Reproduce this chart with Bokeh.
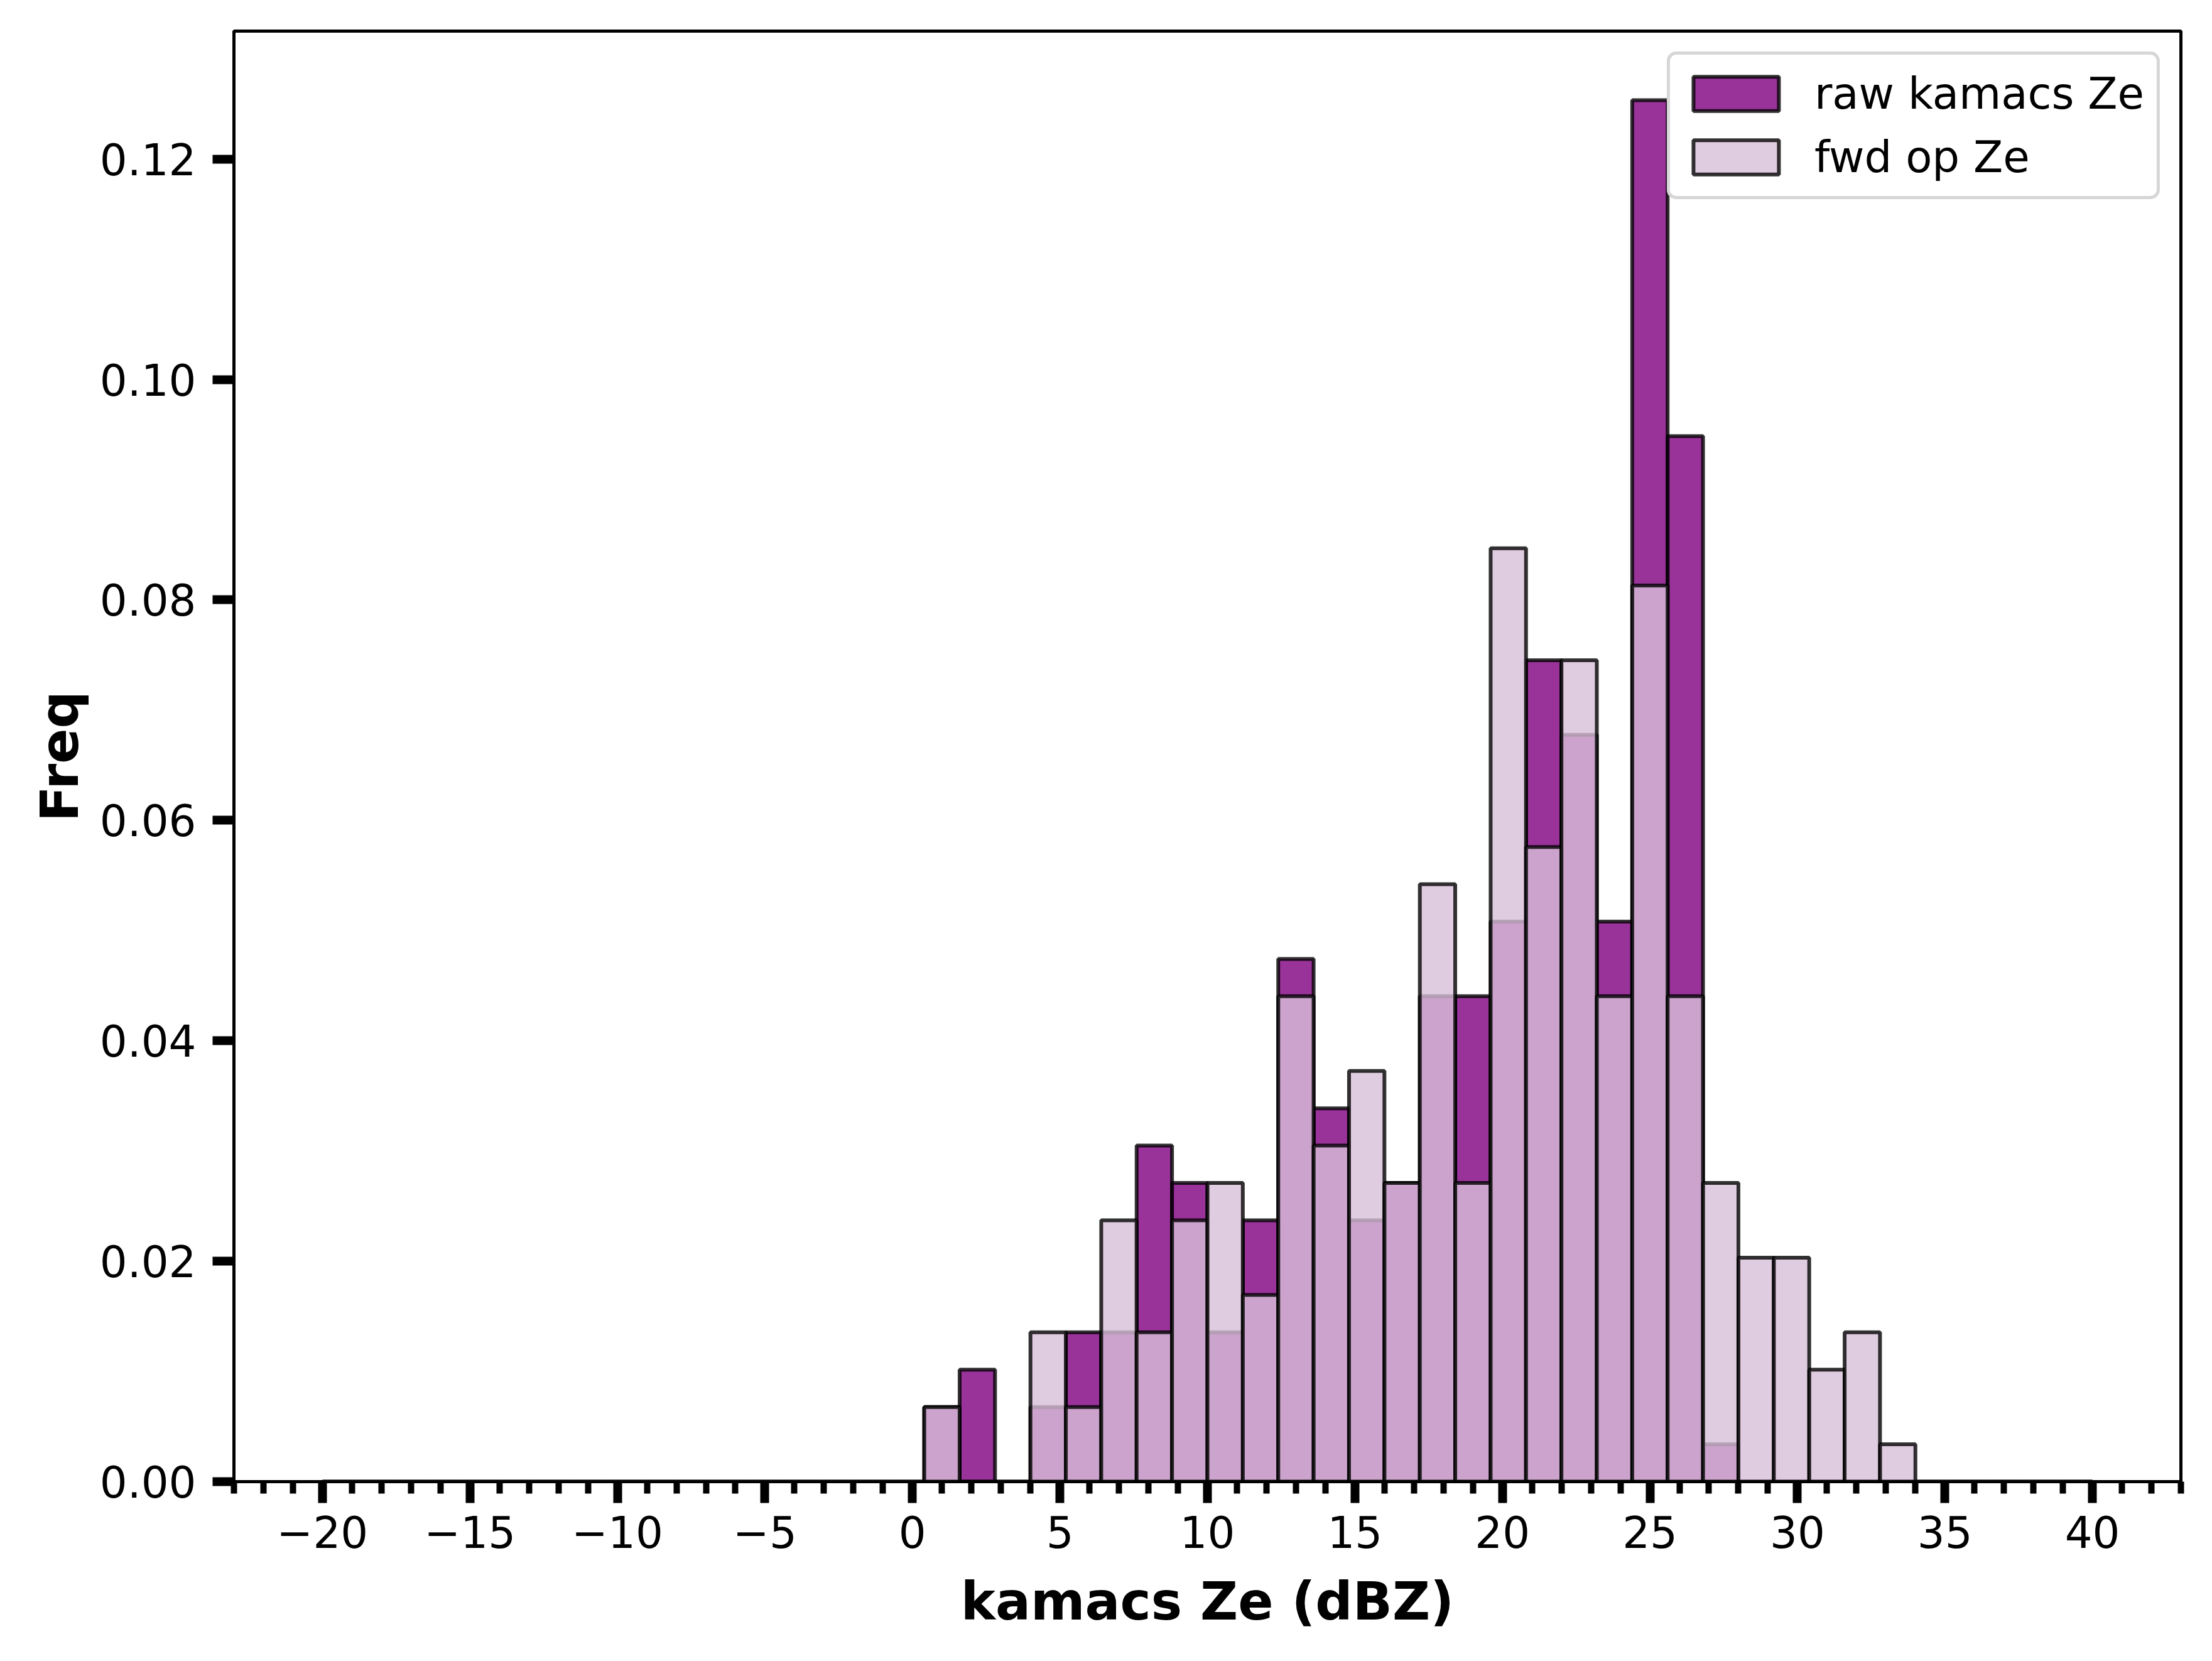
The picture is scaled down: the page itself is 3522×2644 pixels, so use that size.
from bokeh.plotting import figure
from bokeh.models import Range1d, FixedTicker, CustomJSTickFormatter, Legend, LegendItem, ColumnDataSource
from bokeh.embed import file_html
from bokeh.resources import INLINE

# ---- data (histogram counts per bin) ----
bin_start = -20.0
bin_width = 1.2
raw_counts = [0, 0, 0, 0, 0, 0, 0, 0, 0, 0,
              0, 0, 0, 0, 0, 0, 0, 2, 3, 0,
              2, 4, 4, 9, 8, 4, 7, 14, 10, 7,
              8, 13, 13, 15, 22, 20, 15, 37, 28, 1,
              0, 0, 0, 0, 0, 0, 0, 0, 0, 0]
fwd_counts = [0, 0, 0, 0, 0, 0, 0, 0, 0, 0,
              0, 0, 0, 0, 0, 0, 0, 2, 0, 0,
              4, 2, 7, 4, 7, 8, 5, 13, 9, 11,
              8, 16, 8, 25, 17, 22, 13, 24, 13, 8,
              6, 6, 3, 4, 1, 0, 0, 0, 0, 0]
x_ticks = [-20, -15, -10, -5, 0, 5, 10, 15, 20, 25, 30, 35, 40]
x_minor = list(range(-23, 44))
y_ticks = [0.00, 0.02, 0.04, 0.06, 0.08, 0.10, 0.12]
labels = ["raw kamacs Ze", "fwd op Ze"]

n_bins = len(raw_counts)
lefts = [bin_start + i * bin_width for i in range(n_bins)]
rights = [l + bin_width for l in lefts]

def density(counts):
    n = sum(counts)
    return [c / (n * bin_width) for c in counts]

raw_d = density(raw_counts)
fwd_d = density(fwd_counts)

x_lo, x_hi = lefts[0], rights[-1]
x_pad = 0.05 * (x_hi - x_lo)
y_top = 1.05 * max(max(raw_d), max(fwd_d))

FONT = "DejaVu Sans"

p = figure(width=3506, height=2628,
           x_range=Range1d(x_lo - x_pad, x_hi + x_pad),
           y_range=Range1d(0, y_top),
           output_backend="svg", toolbar_location=None,
           min_border_left=372, min_border_right=34,
           min_border_top=49, min_border_bottom=270)
p.background_fill_color = "white"
p.border_fill_color = "white"
p.xgrid.visible = False
p.ygrid.visible = False
p.outline_line_color = "black"
p.outline_line_width = 5
p.outline_line_alpha = 1.0

src_raw = ColumnDataSource(dict(left=lefts, right=rights, top=raw_d, bottom=[0] * n_bins))
src_fwd = ColumnDataSource(dict(left=lefts, right=rights, top=fwd_d, bottom=[0] * n_bins))

r1 = p.quad(left="left", right="right", top="top", bottom="bottom", source=src_raw,
            fill_color="purple", fill_alpha=0.8, line_color="black", line_alpha=0.8, line_width=6)
r2 = p.quad(left="left", right="right", top="top", bottom="bottom", source=src_fwd,
            fill_color="thistle", fill_alpha=0.8, line_color="black", line_alpha=0.8, line_width=6)

# axes
p.xaxis.ticker = FixedTicker(ticks=x_ticks, minor_ticks=x_minor)
p.yaxis.ticker = FixedTicker(ticks=y_ticks, minor_ticks=[])
p.xaxis.formatter = CustomJSTickFormatter(code="return (tick < 0 ? '\u2212' : '') + Math.abs(tick).toFixed(0);")
p.yaxis.formatter = CustomJSTickFormatter(code="return tick.toFixed(2);")

for ax in (p.xaxis, p.yaxis):
    ax.axis_line_width = 5
    ax.axis_line_color = "black"
    ax.major_tick_line_width = 14
    ax.major_tick_out = 34
    ax.major_tick_in = 0
    ax.minor_tick_line_width = 10
    ax.minor_tick_out = 19
    ax.minor_tick_in = 0
    ax.major_label_text_font = FONT
    ax.major_label_text_font_size = "69px"
    ax.major_label_text_color = "black"
    ax.axis_label_text_font = FONT
    ax.axis_label_text_font_size = "83px"
    ax.axis_label_text_font_style = "bold"
    ax.axis_label_text_color = "black"

p.yaxis.minor_tick_line_color = None
p.xaxis.major_label_standoff = 20
p.yaxis.major_label_standoff = 26
p.xaxis.axis_label = "kamacs Ze (dBZ)"
p.yaxis.axis_label = "Freq"
p.xaxis.axis_label_standoff = 34
p.yaxis.axis_label_standoff = 12

legend = Legend(items=[LegendItem(label=labels[0], renderers=[r1]),
                       LegendItem(label=labels[1], renderers=[r2])],
                location="top_right")
legend.label_text_font = FONT
legend.label_text_font_size = "69px"
legend.label_text_color = "black"
legend.glyph_width = 170
legend.glyph_height = 68
legend.label_standoff = 40
legend.label_height = 84
legend.padding = 20
legend.spacing = 17
legend.margin = 33
legend.border_line_color = "#cccccc"
legend.border_line_alpha = 0.8
legend.border_line_width = 5
legend.background_fill_color = "white"
legend.background_fill_alpha = 1.0
if "border_radius" in legend.properties():
    legend.border_radius = 15
p.add_layout(legend)

open("out.html", "w").write(file_html(p, INLINE))
